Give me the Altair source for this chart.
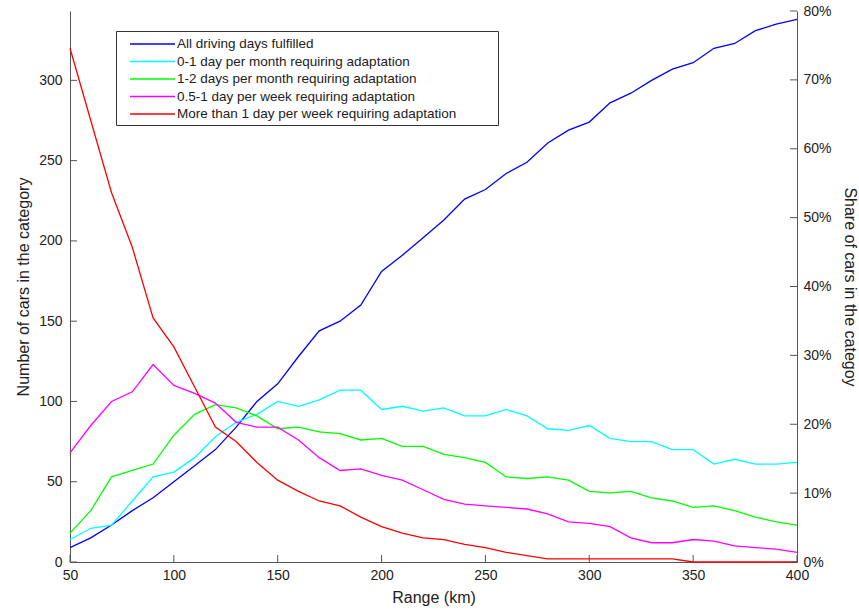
import altair as alt
import pandas as pd

# ---------------- data ----------------
range_km = list(range(50, 401, 10))

series_names = [
    "All driving days fulfilled",
    "0-1 day per month requiring adaptation",
    "1-2 days per month requiring adaptation",
    "0.5-1 day per week requiring adaptation",
    "More than 1 day per week requiring adaptation",
]
series_colors = ["#0000ff", "#00ffff", "#00ff00", "#ff00ff", "#ff0000"]

all_days = [9, 15, 23, 32, 40, 50, 60, 70, 84, 100, 111, 128, 144, 150, 160, 181, 191, 202,
            213, 226, 232, 242, 249, 261, 269, 274, 286, 292, 300, 307, 311, 320, 323, 331, 335, 338]
month_0_1 = [14, 21, 23, 38, 53, 56, 65, 78, 87, 92, 100, 97, 101, 107, 107, 95, 97, 94,
             96, 91, 91, 95, 91, 83, 82, 85, 77, 75, 75, 70, 70, 61, 64, 61, 61, 62]
month_1_2 = [18, 32, 53, 57, 61, 79, 92, 98, 96, 91, 83, 84, 81, 80, 76, 77, 72, 72,
             67, 65, 62, 53, 52, 53, 51, 44, 43, 44, 40, 38, 34, 35, 32, 28, 25, 23]
week_05_1 = [68, 85, 100, 106, 123, 110, 105, 99, 87, 84, 84, 76, 65, 57, 58, 54, 51, 45,
             39, 36, 35, 34, 33, 30, 25, 24, 22, 15, 12, 12, 14, 13, 10, 9, 8, 6]
week_more = [320, 275, 230, 196, 152, 134, 109, 84, 75, 62, 51, 44, 38, 35, 28, 22, 18, 15,
             14, 11, 9, 6, 4, 2, 2, 2, 2, 2, 2, 2, 0, 0, 0, 0, 0, 0]

TOTAL_CARS = 429

x_tick_values = [50, 100, 150, 200, 250, 300, 350, 400]
left_tick_values = [0, 50, 100, 150, 200, 250, 300]
right_tick_values = [0, 0.1, 0.2, 0.3, 0.4, 0.5, 0.6, 0.7, 0.8]

rows = []
for name, vals in zip(series_names, [all_days, month_0_1, month_1_2, week_05_1, week_more]):
    for x, v in zip(range_km, vals):
        rows.append({"range": x, "count": v, "series": name})
df = pd.DataFrame(rows)

# ---------------- styling ----------------
W, H = 727, 551
AX = "#555555"
TXT = "#222222"
FONT = "Liberation Sans"
TICK = 7

xscale = alt.Scale(domain=[50, 400], nice=False, zero=False)
yscale = alt.Scale(domain=[0, 0.8 * TOTAL_CARS], nice=False)
rscale = alt.Scale(domain=[0, 0.8], nice=False)

xaxis = alt.Axis(values=x_tick_values, title="Range (km)", labelPadding=6, titlePadding=7)
yaxis = alt.Axis(values=left_tick_values, title="Number of cars in the category",
                 orient="left", labelPadding=8, titlePadding=7)
raxis = alt.Axis(values=right_tick_values, format=".0%", title="Share of cars in the categoy",
                 orient="right", labelPadding=6, titlePadding=10)

# legend symbol: a 45 px horizontal line inside a 16 px symbol cell (r = 8)
legend_symbol = "M0.125,0H5.75"
pad = "\u00a0" * 10 + "\u200b"

lines = alt.Chart(df).mark_line(strokeWidth=1.3).encode(
    x=alt.X("range:Q", scale=xscale, axis=xaxis),
    y=alt.Y("count:Q", scale=yscale, axis=yaxis),
    color=alt.Color(
        "series:N",
        scale=alt.Scale(domain=series_names, range=series_colors),
        legend=alt.Legend(
            title=None, orient="none", legendX=46, legendY=20,
            strokeColor="#333333", fillColor="white", padding=4,
            rowPadding=1.5, symbolType=legend_symbol, symbolSize=256,
            symbolStrokeWidth=1.5, labelOffset=39, labelLimit=700,
            labelFont=FONT, labelFontSize=13.5, labelColor=TXT,
            labelExpr="datum.label + '" + pad + "'",
        ),
    ),
)

x_ticks = alt.Chart(pd.DataFrame({"range": x_tick_values})).mark_rule(color=AX, strokeWidth=1).encode(
    x=alt.X("range:Q", scale=xscale, axis=xaxis),
    y=alt.value(H),
    y2=alt.value(H - TICK),
)

left_ticks = alt.Chart(pd.DataFrame({"count": left_tick_values})).mark_rule(color=AX, strokeWidth=1).encode(
    y=alt.Y("count:Q", scale=yscale, axis=yaxis),
    x=alt.value(0),
    x2=alt.value(TICK),
)

right_ticks = alt.Chart(pd.DataFrame({"share": right_tick_values})).mark_rule(color=AX, strokeWidth=1).encode(
    y=alt.Y("share:Q", scale=rscale, axis=raxis),
    x=alt.value(W - TICK),
    x2=alt.value(W),
)

left_group = alt.layer(lines, x_ticks, left_ticks)

chart = (
    alt.layer(left_group, right_ticks)
    .resolve_scale(y="independent")
    .properties(
        width=W, height=H,
        padding={"left": 70, "top": 11, "right": 62, "bottom": 49},
        autosize=alt.AutoSizeParams(type="none"),
        background="white",
    )
    .configure_view(stroke=None)
    .configure_axis(
        domainColor=AX, domainWidth=1, ticks=False, grid=False,
        labelFont=FONT, labelFontSize=14, labelColor=TXT, labelFlush=False,
        titleFont=FONT, titleFontSize=16, titleFontWeight="normal", titleColor=TXT,
    )
)

chart.save("out.html", embed_options={"renderer": "svg", "actions": False})
